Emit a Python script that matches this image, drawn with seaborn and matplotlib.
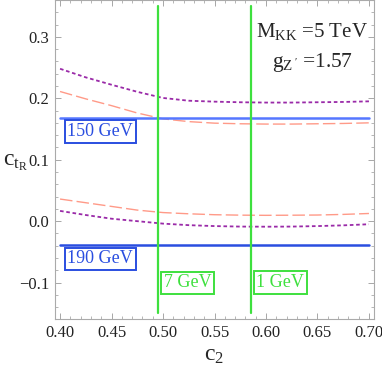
import numpy as np
import pandas as pd
import matplotlib
matplotlib.use("Agg")
import matplotlib.pyplot as plt
import seaborn as sns
from matplotlib.ticker import MultipleLocator

# ---- data ----
c2 = [0.40, 0.425, 0.45, 0.475, 0.50, 0.525, 0.55, 0.575, 0.60, 0.625, 0.65, 0.675, 0.70]
purple_upper = [0.248, 0.234, 0.222, 0.2105, 0.2005, 0.196, 0.1945, 0.1935, 0.193, 0.193, 0.1935, 0.194, 0.195]
red_upper = [0.211, 0.199, 0.188, 0.176, 0.1665, 0.162, 0.1595, 0.1585, 0.158, 0.158, 0.1585, 0.159, 0.160]
red_lower = [0.036, 0.030, 0.024, 0.018, 0.014, 0.012, 0.0105, 0.0098, 0.0095, 0.0097, 0.010, 0.011, 0.0125]
purple_lower = [0.0167, 0.010, 0.004, 0.0, -0.004, -0.0065, -0.008, -0.0088, -0.009, -0.0088, -0.008, -0.0068, -0.005]

mass_labels = ["150 GeV", "190 GeV"]
mass_levels = [0.1675, -0.0395]
width_labels = ["7 GeV", "1 GeV"]
width_positions = [0.4951, 0.5851]

sns.set_style("ticks")
plt.rcParams["font.family"] = ["Liberation Serif", "DejaVu Serif"]
plt.rcParams["mathtext.fontset"] = "custom"
plt.rcParams["mathtext.rm"] = "Liberation Serif"
plt.rcParams["mathtext.it"] = "Liberation Serif"
plt.rcParams["mathtext.bf"] = "Liberation Serif:bold"

fig = plt.figure(figsize=(3.82, 3.69), dpi=100)
ax = fig.add_axes([55 / 382, (369 - 319) / 369, (374 - 55) / 382, 319 / 369 - 0.001])

df = pd.DataFrame({"c2": c2, "pu": purple_upper, "ru": red_upper,
                   "rl": red_lower, "pl": purple_lower})

purple = "#9a2aa8"
salmon = "#ff9a88"
for col in ["pu", "pl"]:
    sns.lineplot(data=df, x="c2", y=col, ax=ax, color=purple, lw=1.3,
                 linestyle=(0, (2, 1.5)))
for col in ["ru", "rl"]:
    sns.lineplot(data=df, x="c2", y=col, ax=ax, color=salmon, lw=1.0,
                 linestyle=(0, (9, 3)))

blue_cols = ["#5577ff", "#2a4ee0"]
for lvl, lab, bc in zip(mass_levels, mass_labels, blue_cols):
    ax.plot([0.40, 0.70], [lvl, lvl], color=bc, lw=1.8)

green = "#3ee03e"
for xp in width_positions:
    ax.plot([xp, xp], [-0.1496, 0.3496], color=green, lw=1.6)

# labels
box_b = dict(boxstyle="square,pad=0.15", fc="white", ec="#2a4ee0", lw=1.4)
ax.text(0.407, 0.146, mass_labels[0], color="#2a4ee0", fontsize=13, va="center", ha="left", bbox=box_b)
ax.text(0.407, -0.0615, mass_labels[1], color="#2a4ee0", fontsize=13, va="center", ha="left", bbox=box_b)
box_g = dict(boxstyle="square,pad=0.15", fc="white", ec=green, lw=1.4)
ax.text(width_positions[0] + 0.0055, -0.1005, width_labels[0], color=green, fontsize=13, va="center", ha="left", bbox=box_g)
ax.text(width_positions[1] + 0.0055, -0.0995, width_labels[1], color=green, fontsize=13, va="center", ha="left", bbox=box_g)

ax.text(0.6445, 0.308, r"$\mathrm{M_{KK}}$ =5 TeV", fontsize=15, ha="center", va="center")
ax.text(0.6445, 0.258, r"$\mathrm{g_{Z\,'}}$ =1.57", fontsize=15.5, ha="center", va="center")

ax.set_xlim(0.3951, 0.7049)
ax.set_ylim(-0.1592, 0.3593)
ax.xaxis.set_major_locator(MultipleLocator(0.05))
ax.xaxis.set_minor_locator(MultipleLocator(0.01))
ax.yaxis.set_major_locator(MultipleLocator(0.1))
ax.yaxis.set_minor_locator(MultipleLocator(0.02))
ax.xaxis.set_major_formatter(plt.FuncFormatter(lambda v, p: f"{v:.2f}"))
ax.yaxis.set_major_formatter(plt.FuncFormatter(lambda v, p: ("\u2212" if v < -1e-9 else "") + f"{abs(v):.1f}"))
ax.tick_params(which="both", direction="in", top=True, right=True, color="#999999",
               labelsize=12, labelcolor="#222222")
ax.tick_params(which="major", length=4, width=0.6, pad=4)
ax.tick_params(which="minor", length=2, width=0.5)
for s in ax.spines.values():
    s.set_color("#aaaaaa")
    s.set_linewidth(0.8)

ax.set_xlabel(r"$\mathrm{c_2}$", fontsize=17, labelpad=3)
ax.set_ylabel(r"$\mathrm{c_{t_R}}$", fontsize=17, rotation=0, va="center", ha="center")
ax.yaxis.set_label_coords(-0.125, 0.49)

fig.savefig("out.png", dpi=100)
